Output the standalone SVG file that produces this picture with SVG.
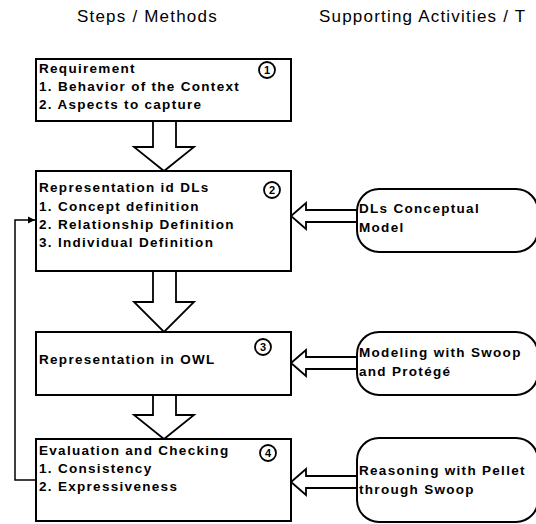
<svg xmlns="http://www.w3.org/2000/svg" width="536" height="524" viewBox="0 0 536 524">
  <style>
    .hdr { font-family: "Liberation Sans", Arial, sans-serif; font-size: 17px; letter-spacing: 1.2px; fill: #000; }
    .box { fill: #fff; stroke: #000; stroke-width: 2; }
    .tool { fill: #fff; stroke: #000; stroke-width: 2; }
    .lbl { font-family: "Liberation Sans", Arial, sans-serif; font-size: 13.5px; font-weight: bold; letter-spacing: 1.3px; fill: #000; }
    .num { font-family: "Liberation Sans", Arial, sans-serif; font-size: 11px; font-weight: bold; fill: #000; text-anchor: middle; }
    .badge { fill: #fff; stroke: #000; stroke-width: 1.8; }
    .flow { fill: #fff; stroke: #000; stroke-width: 1.8; stroke-linejoin: miter; }
    .line { fill: none; stroke: #000; stroke-width: 1.5; }
  </style>
  <defs>
    <marker id="tip" viewBox="0 0 10 10" refX="10" refY="5" markerWidth="5" markerHeight="5" orient="auto">
      <path d="M0,0 L10,5 L0,10 Z" fill="#000"/>
    </marker>
  </defs>

  <!-- column headings -->
  <text class="hdr" x="77" y="22">Steps / Methods</text>
  <text class="hdr" x="319" y="22">Supporting Activities / T</text>

  <!-- connectors -->
  <g id="connectors">
    <!-- block arrows between steps -->
    <path class="flow" d="M153,121 L176,121 L176,147 L194,147 L164,171 L134,147 L153,147 Z"/>
    <path class="flow" d="M153,271 L176,271 L176,302 L194,302 L164,332 L134,302 L153,302 Z"/>
    <path class="flow" d="M153,395 L176,395 L176,415 L194,415 L164,439 L134,415 L153,415 Z"/>
    <!-- hollow arrows from supporting activities -->
    <path class="flow" d="M357,210 L306,210 L306,203 L291,216 L306,229 L306,222 L357,222"/>
    <path class="flow" d="M357,357 L306,357 L306,350 L291,363 L306,376 L306,369 L357,369"/>
    <path class="flow" d="M357,476 L306,476 L306,469 L291,482 L306,495 L306,488 L357,488"/>
    <!-- feedback loop from evaluation back to DL representation -->
    <polyline class="line" points="36,480 15,480 15,220 35,220" marker-end="url(#tip)"/>
  </g>

  <g id="step1">
    <rect class="box" x="36" y="59" width="255" height="62"/>
    <text class="lbl" x="39" y="73">Requirement</text>
    <text class="lbl" x="39" y="91">1. Behavior of the Context</text>
    <text class="lbl" x="39" y="109">2. Aspects to capture</text>
    <circle class="badge" cx="267" cy="70" r="8"/>
    <text class="num" x="267" y="74">1</text>
  </g>

  <g id="step2">
    <rect class="box" x="36" y="171" width="255" height="100"/>
    <text class="lbl" x="39" y="192">Representation id DLs</text>
    <text class="lbl" x="39" y="211">1. Concept definition</text>
    <text class="lbl" x="39" y="229">2. Relationship Definition</text>
    <text class="lbl" x="39" y="247">3. Individual Definition</text>
    <circle class="badge" cx="272" cy="190" r="8"/>
    <text class="num" x="272" y="194">2</text>
  </g>

  <g id="step3">
    <rect class="box" x="36" y="332" width="255" height="63"/>
    <text class="lbl" x="39" y="364">Representation in OWL</text>
    <circle class="badge" cx="263" cy="347" r="8"/>
    <text class="num" x="263" y="351">3</text>
  </g>

  <g id="step4">
    <rect class="box" x="36" y="439" width="255" height="82"/>
    <text class="lbl" x="39" y="455">Evaluation and Checking</text>
    <text class="lbl" x="39" y="473">1. Consistency</text>
    <text class="lbl" x="39" y="491">2. Expressiveness</text>
    <circle class="badge" cx="268" cy="453" r="8"/>
    <text class="num" x="268" y="457">4</text>
  </g>

  <g id="dl-model">
    <rect class="tool" x="357" y="189" width="181" height="63" rx="22" ry="22"/>
    <text class="lbl" x="359" y="213">DLs Conceptual</text>
    <text class="lbl" x="359" y="232">Model</text>
  </g>

  <g id="modeling">
    <rect class="tool" x="357" y="332" width="181" height="63" rx="22" ry="22"/>
    <text class="lbl" x="359" y="357">Modeling with Swoop</text>
    <text class="lbl" x="359" y="376">and Protégé</text>
  </g>

  <g id="reasoning">
    <rect class="tool" x="357" y="438" width="181" height="84" rx="22" ry="22"/>
    <text class="lbl" x="359" y="475">Reasoning with Pellet</text>
    <text class="lbl" x="359" y="494">through Swoop</text>
  </g>
</svg>
